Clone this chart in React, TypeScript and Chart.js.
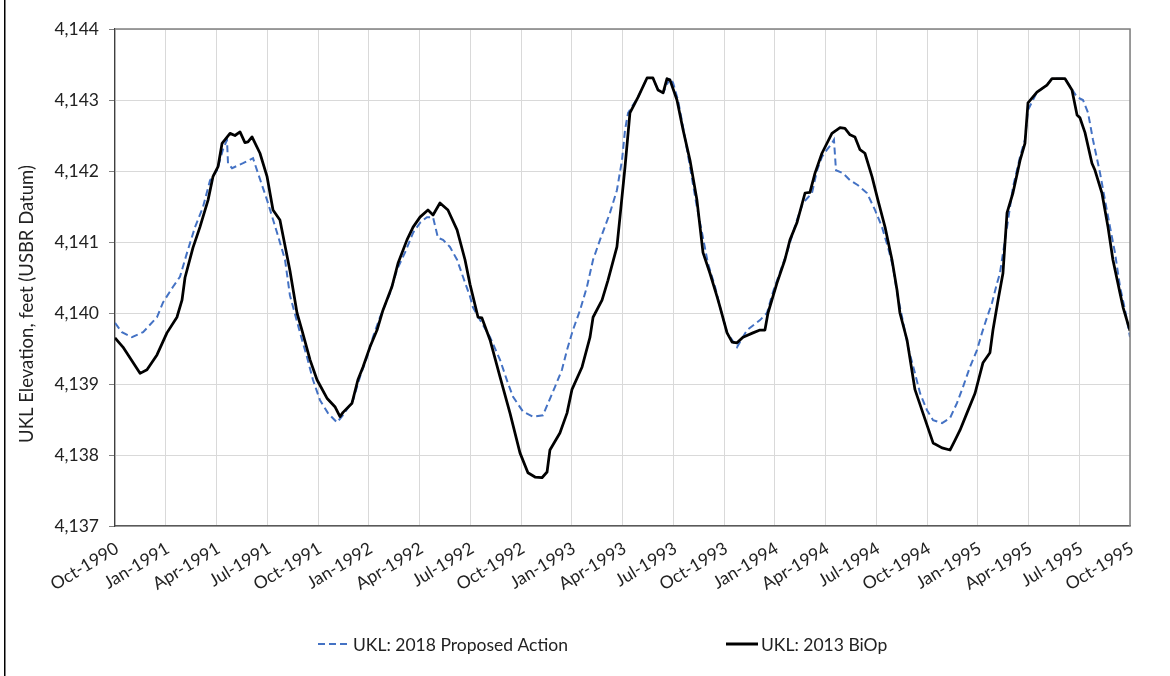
import React, { useEffect, useRef } from 'react';
import { Chart, registerables } from 'chart.js';

Chart.register(...registerables);

// x values are month index from Oct-1990 (0) to Oct-1995 (60)
const xTickLabels = [
  'Oct-1990', 'Jan-1991', 'Apr-1991', 'Jul-1991', 'Oct-1991', 'Jan-1992', 'Apr-1992',
  'Jul-1992', 'Oct-1992', 'Jan-1993', 'Apr-1993', 'Jul-1993', 'Oct-1993', 'Jan-1994',
  'Apr-1994', 'Jul-1994', 'Oct-1994', 'Jan-1995', 'Apr-1995', 'Jul-1995', 'Oct-1995',
];

const seriesNames = ['UKL: 2018 Proposed Action', 'UKL: 2013 BiOp'];
const yAxisTitle = 'UKL Elevation, feet (USBR Datum)';

const blueMonths = [
  0.0, 0.41, 1.0, 1.66, 2.48, 2.84, 3.43, 3.84, 4.26, 4.73, 5.2, 5.62, 6.03, 6.38, 6.62, 6.68,
  6.92, 7.57, 8.16, 8.45, 8.99, 9.58, 10.05, 10.34, 10.94, 11.35, 11.7, 12.12, 12.59, 13.12,
  13.48, 14.07, 14.48, 14.9, 15.25, 15.66, 16.26, 16.67, 17.14, 17.62, 18.03, 18.44, 18.8,
  19.09, 19.39, 19.8, 20.22, 20.57, 20.99, 21.16, 21.58, 22.17, 22.76, 23.23, 23.53, 24.12,
  24.71, 25.3, 25.6, 26.01, 26.42, 26.72, 27.07, 27.49, 27.9, 28.26, 28.67, 29.26, 29.67,
  29.97, 30.15, 30.33, 30.92, 31.45, 31.8, 32.1, 32.4, 32.81, 32.99, 33.28, 33.58, 33.99,
  34.4, 34.7, 35.05, 35.47, 35.77, 36.18, 36.77, 37.36, 38.13, 38.54, 38.9, 39.72, 40.31,
  40.67, 41.2, 41.5, 41.79, 42.09, 42.38, 42.5, 42.62, 43.03, 43.45, 43.92, 44.45, 44.93,
  45.34, 45.69, 45.99, 46.23, 46.52, 46.88, 47.29, 47.59, 48.0, 48.36, 48.89, 49.36, 49.77,
  50.13, 50.54, 50.96, 51.25, 51.55, 51.84, 52.14, 52.31, 52.73, 53.08, 53.5, 53.79, 53.97,
  54.5, 55.09, 55.39, 56.16, 56.57, 56.87, 57.22, 57.52, 57.81, 58.23, 58.52, 58.82, 59.11,
  59.41, 59.71, 60.0,
];
const blueValues = [
  4139.86, 4139.73, 4139.66, 4139.73, 4139.94, 4140.15, 4140.37, 4140.51, 4140.85, 4141.21,
  4141.49, 4141.87, 4142.01, 4142.3, 4142.44, 4142.11, 4142.04, 4142.11, 4142.18, 4141.97,
  4141.59, 4141.13, 4140.75, 4140.25, 4139.72, 4139.38, 4139.06, 4138.77, 4138.59, 4138.46,
  4138.56, 4138.77, 4139.1, 4139.38, 4139.66, 4139.94, 4140.28, 4140.61, 4140.85, 4141.13,
  4141.27, 4141.35, 4141.35, 4141.06, 4141.03, 4140.93, 4140.75, 4140.51, 4140.23, 4140.08,
  4139.9, 4139.66, 4139.34, 4139.01, 4138.82, 4138.61, 4138.54, 4138.56, 4138.73, 4138.96,
  4139.2, 4139.48, 4139.76, 4140.04, 4140.37, 4140.75, 4141.03, 4141.41, 4141.73, 4142.15,
  4142.58, 4142.82, 4143.04, 4143.31, 4143.31, 4143.14, 4143.1, 4143.31, 4143.24, 4143.0,
  4142.62, 4142.06, 4141.49, 4141.13, 4140.7, 4140.37, 4140.08, 4139.72, 4139.52, 4139.76,
  4139.9, 4140.0, 4140.3, 4140.85, 4141.31, 4141.55, 4141.69, 4142.01, 4142.2, 4142.3,
  4142.39, 4142.44, 4142.01, 4141.97, 4141.87, 4141.8, 4141.69, 4141.45, 4141.21, 4140.93,
  4140.65, 4140.28, 4139.95, 4139.52, 4139.15, 4138.87, 4138.63, 4138.49, 4138.45, 4138.52,
  4138.73, 4138.96, 4139.24, 4139.48, 4139.72, 4139.94, 4140.14, 4140.42, 4140.56, 4141.21,
  4141.77, 4142.2, 4142.44, 4142.86, 4143.11, 4143.21, 4143.3, 4143.3, 4143.15, 4143.04,
  4143.0, 4142.82, 4142.44, 4141.97, 4141.59, 4141.21, 4140.85, 4140.37, 4140.04, 4139.66,
];

const blackMonths = [
  0.0, 0.47, 1.48, 1.89, 2.48, 3.07, 3.66, 3.96, 4.14, 4.61, 5.02, 5.5, 5.79, 6.09, 6.33, 6.8,
  7.09, 7.39, 7.68, 7.86, 8.1, 8.57, 8.99, 9.34, 9.75, 10.34, 10.76, 11.05, 11.53, 11.94,
  12.53, 13.0, 13.3, 13.48, 14.01, 14.36, 14.66, 15.07, 15.49, 15.84, 16.37, 16.73, 17.26,
  17.62, 18.03, 18.5, 18.8, 19.21, 19.68, 20.22, 20.69, 20.99, 21.46, 21.69, 22.17, 22.76,
  23.35, 23.94, 24.41, 24.83, 25.24, 25.54, 25.71, 26.3, 26.72, 27.01, 27.61, 28.08, 28.26,
  28.79, 29.14, 29.67, 29.85, 30.15, 30.44, 30.92, 31.45, 31.8, 32.1, 32.4, 32.63, 32.81,
  33.22, 33.58, 33.99, 34.4, 34.76, 35.17, 35.59, 35.77, 36.18, 36.48, 36.77, 37.12, 37.71,
  38.13, 38.42, 38.6, 39.13, 39.6, 39.9, 40.31, 40.79, 41.08, 41.38, 41.79, 42.38, 42.86,
  43.15, 43.45, 43.74, 44.04, 44.33, 44.75, 45.1, 45.52, 45.93, 46.23, 46.4, 46.82, 47.29,
  47.76, 48.36, 48.89, 49.36, 49.66, 49.95, 50.36, 50.84, 51.31, 51.72, 51.9, 52.2, 52.49,
  52.73, 53.08, 53.5, 53.79, 53.97, 54.5, 55.09, 55.39, 56.16, 56.57, 56.87, 57.04, 57.34,
  57.75, 57.93, 58.34, 58.7, 58.99, 59.41, 59.59, 60.0,
];
const blackValues = [
  4139.65, 4139.52, 4139.15, 4139.2, 4139.41, 4139.72, 4139.94, 4140.18, 4140.5, 4140.92,
  4141.21, 4141.59, 4141.92, 4142.06, 4142.39, 4142.53, 4142.5, 4142.55, 4142.4, 4142.41,
  4142.48, 4142.25, 4141.92, 4141.45, 4141.31, 4140.6, 4140.0, 4139.76, 4139.34, 4139.06,
  4138.8, 4138.68, 4138.54, 4138.6, 4138.73, 4139.06, 4139.24, 4139.52, 4139.76, 4140.04,
  4140.37, 4140.7, 4141.03, 4141.21, 4141.35, 4141.45, 4141.38, 4141.55, 4141.45, 4141.17,
  4140.75, 4140.4, 4139.94, 4139.93, 4139.62, 4139.1, 4138.59, 4138.03, 4137.75, 4137.69,
  4137.68, 4137.76, 4138.07, 4138.31, 4138.59, 4138.92, 4139.24, 4139.66, 4139.94, 4140.18,
  4140.46, 4140.93, 4141.35, 4142.06, 4142.82, 4143.04, 4143.31, 4143.31, 4143.14, 4143.1,
  4143.3, 4143.28, 4143.0, 4142.58, 4142.15, 4141.59, 4140.85, 4140.56, 4140.23, 4140.08,
  4139.72, 4139.59, 4139.58, 4139.66, 4139.72, 4139.76, 4139.76, 4140.0, 4140.42, 4140.75,
  4141.03, 4141.27, 4141.69, 4141.7, 4141.97, 4142.25, 4142.53, 4142.61, 4142.6, 4142.51,
  4142.48, 4142.3, 4142.25, 4141.92, 4141.59, 4141.21, 4140.75, 4140.32, 4140.0, 4139.62,
  4138.92, 4138.59, 4138.17, 4138.1, 4138.07, 4138.21, 4138.35, 4138.59, 4138.87, 4139.3,
  4139.44, 4139.76, 4140.18, 4140.56, 4141.41, 4141.69, 4142.15, 4142.39, 4142.96, 4143.11,
  4143.21, 4143.3, 4143.3, 4143.14, 4142.79, 4142.75, 4142.54, 4142.11, 4142.01, 4141.69,
  4141.21, 4140.75, 4140.28, 4140.08, 4139.75,
];

const FONT = 'Lato, "Noto Sans", sans-serif';
const TEXT_COLOR = '#222222';
const BLUE = '#4472C4';
const BLACK = '#000000';

const decorPlugin = {
  id: 'decor',
  afterDraw(chart: any) {
    const { ctx, chartArea: a } = chart;
    ctx.save();
    // outer left frame line
    ctx.fillStyle = '#000';
    ctx.fillRect(4, 0, 1.5, chart.height);
    // plot area top / right border
    ctx.strokeStyle = '#808080';
    ctx.lineWidth = 1.5;
    ctx.beginPath();
    ctx.moveTo(a.left, a.top);
    ctx.lineTo(a.right, a.top);
    ctx.lineTo(a.right, a.bottom);
    ctx.stroke();
    // y-axis title
    ctx.save();
    ctx.translate(27, 304);
    ctx.rotate(-Math.PI / 2);
    ctx.font = `18.5px ${FONT}`;
    ctx.fillStyle = TEXT_COLOR;
    ctx.textAlign = 'center';
    ctx.textBaseline = 'middle';
    ctx.fillText(yAxisTitle, 0, 0);
    ctx.restore();
    // legend
    const ly = 644;
    const items = [
      { x: 318, color: BLUE, width: 2, dash: [7, 4], text: seriesNames[0] },
      { x: 726, color: BLACK, width: 3, dash: [], text: seriesNames[1] },
    ];
    ctx.font = `17.5px ${FONT}`;
    ctx.textAlign = 'left';
    ctx.textBaseline = 'middle';
    for (const it of items) {
      ctx.save();
      ctx.strokeStyle = it.color;
      ctx.lineWidth = it.width;
      ctx.setLineDash(it.dash);
      ctx.beginPath();
      ctx.moveTo(it.x, ly);
      ctx.lineTo(it.x + 32, ly);
      ctx.stroke();
      ctx.restore();
      ctx.fillStyle = TEXT_COLOR;
      ctx.fillText(it.text, it.x + 35, ly + 1);
    }
    ctx.restore();
  },
};

export default function App() {
  const canvasRef = useRef<HTMLCanvasElement | null>(null);

  useEffect(() => {
    const canvas = canvasRef.current;
    if (!canvas) return;
    const bluePts = blueMonths.map((m, i) => ({ x: m, y: blueValues[i] }));
    const blackPts = blackMonths.map((m, i) => ({ x: m, y: blackValues[i] }));

    const chart = new Chart(canvas, {
      type: 'line',
      data: {
        datasets: [
          {
            label: seriesNames[0],
            data: bluePts,
            borderColor: BLUE,
            borderWidth: 2,
            borderDash: [7, 4],
            pointRadius: 0,
            tension: 0,
            fill: false,
            order: 1,
          },
          {
            label: seriesNames[1],
            data: blackPts,
            borderColor: BLACK,
            borderWidth: 2.75,
            borderJoinStyle: 'round',
            pointRadius: 0,
            tension: 0,
            fill: false,
            order: 0,
          },
        ],
      },
      options: {
        responsive: false,
        animation: false,
        events: [],
        layout: { padding: { left: 0, right: 40, top: 29, bottom: 0 } },
        plugins: {
          legend: { display: false },
          tooltip: { enabled: false },
          title: { display: false },
        },
        scales: {
          x: {
            type: 'linear',
            min: 0,
            max: 60,
            afterFit: (scale: any) => {
              scale.height = 150;
            },
            afterBuildTicks: (scale: any) => {
              scale.ticks = xTickLabels.map((_, i) => ({ value: i * 3 }));
            },
            ticks: {
              autoSkip: false,
              minRotation: 31,
              maxRotation: 31,
              padding: 12,
              labelOffset: 2,
              color: TEXT_COLOR,
              font: { family: FONT, size: 17.5 },
              callback: (v: any) => xTickLabels[Math.round(Number(v) / 3)] ?? '',
            },
            grid: { color: '#d9d9d9', lineWidth: 1, drawTicks: false },
            border: { color: '#595959', width: 1.5 },
          },
          y: {
            type: 'linear',
            min: 4137,
            max: 4144,
            afterFit: (scale: any) => {
              scale.width = 115;
            },
            ticks: {
              stepSize: 1,
              padding: 10,
              color: TEXT_COLOR,
              font: { family: FONT, size: 17.5 },
              callback: (v: any) => Number(v).toLocaleString('en-US'),
            },
            grid: {
              color: '#d9d9d9',
              lineWidth: 1,
              drawTicks: true,
              tickLength: 6,
              tickColor: '#808080',
            },
            border: { color: '#404040', width: 1.25 },
          },
        },
      },
      plugins: [decorPlugin],
    });
    return () => chart.destroy();
  }, []);

  return (
    <div style={{ position: 'fixed', left: 0, top: 0, width: 1170, height: 676, background: '#fff' }}>
      <canvas ref={canvasRef} width={1170} height={676} style={{ display: 'block' }} />
    </div>
  );
}
